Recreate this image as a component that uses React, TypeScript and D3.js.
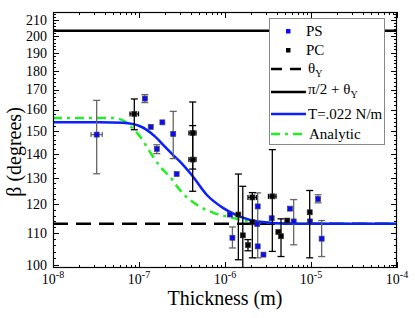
import React, { useEffect, useRef } from 'react'
import * as d3 from 'd3'

const width = 415
const height = 318
const plotLeft = 53
const plotRight = 397
const plotTop = 12
const plotBottom = 268

const xTickExps = [-8, -7, -6, -5, -4]
const yTickVals = [100, 110, 120, 130, 140, 150, 160, 170, 180, 190, 200, 210]

const thetaY = 113.2
const piHalfPlusThetaY = 203.2

// [thickness m, beta, betaLo, betaHi, thicknessLo, thicknessHi]
const psPoints = [
	[3.22e-8, 148.3, 131.7, 164.5, 2.77e-8, 3.74e-8],
	[1.17e-7, 165.4, 163.4, 167.4, null, null],
	[1.37e-7, 151.8, null, null, null, null],
	[1.87e-7, 153.9, null, null, null, null],
	[1.61e-7, 142.0, 140.0, 143.8, null, null],
	[2.50e-7, 148.6, 137.9, 159.1, null, null],
	[2.74e-7, 131.6, null, null, null, null],
	[1.14e-6, 116.4, null, null, null, null],
	[1.22e-6, 108.5, 105.2, 112.1, null, null],
	[2.40e-6, 119.3, 102.1, 124.3, null, null],
	[2.37e-6, 113.1, null, null, null, null],
	[2.40e-6, 105.7, null, null, null, null],
	[2.80e-6, 103.1, null, null, null, null],
	[3.49e-6, 115.1, null, null, null, null],
	[5.70e-6, 118.5, null, null, null, null],
	[6.29e-6, 114.0, 106.2, 121.8, null, null],
	[9.73e-6, 114.0, null, null, null, null],
	[1.21e-5, 122.0, 120.6, 123.6, null, null],
	[1.33e-5, 108.2, 102.5, 114.3, null, null],
]

const pcPoints = [
	[8.82e-8, 157.9, 150.5, 165.2, 7.86e-8, 9.87e-8],
	[4.21e-7, 149.0, 133.6, 163.7, 3.81e-7, 4.60e-7],
	[4.21e-7, 137.5, 124.9, 152.4, 3.81e-7, 4.60e-7],
	[1.43e-6, 116.4, 101.5, 131.6, null, null],
	[1.61e-6, 109.3, 91.8, 126.8, null, null],
	[1.85e-6, 106.1, 104.3, 107.9, null, null],
	[2.08e-6, 122.6, null, null, 1.85e-6, 2.32e-6],
	[2.08e-6, 113.7, 102.1, 124.4, null, null],
	[3.55e-6, 123.0, 104.1, 141.7, 3.20e-6, 3.92e-6],
	[4.17e-6, 110.4, null, null, null, null],
	[4.48e-6, 109.0, 102.5, 114.9, null, null],
	[5.30e-6, 114.3, null, null, null, null],
	[9.66e-6, 117.2, 102.1, 125.2, null, null],
]

// T=.022 N/m fit
const fitCurve = [
	[1e-8, 154.0], [3.52e-8, 154.0], [6.52e-8, 153.7], [1.03e-7, 152.1],
	[1.53e-7, 147.5], [2.0e-7, 143.0], [2.48e-7, 139.5], [3.0e-7, 136.6],
	[4.21e-7, 130.7], [6.12e-7, 123.6], [9.55e-7, 118.7], [1.49e-6, 115.7],
	[2.55e-6, 113.9], [5.7e-6, 113.2], [1e-4, 113.2],
]

const analyticCurve = [
	[1e-8, 156.0], [4.6e-8, 156.0], [6.01e-8, 155.4], [7.45e-8, 153.3],
	[8.51e-8, 151.0], [1.03e-7, 147.4], [1.41e-7, 139.5], [1.75e-7, 134.7],
	[2.29e-7, 130.5], [2.84e-7, 126.3], [3.43e-7, 123.3], [4.72e-7, 119.9],
	[7.24e-7, 117.1], [1.05e-6, 115.7], [1.71e-6, 114.3], [3.08e-6, 113.6],
	[7.45e-6, 113.2], [1e-4, 113.2],
]

const serif = 'Liberation Serif, Times New Roman, Times, DejaVu Serif, serif'
const psColor = '#0a0aff'
const fitColor = '#0a1eff'
const analyticColor = '#22ee22'

export default function App() {
	const svgRef = useRef(null)

	useEffect(() => {
		const svg = d3.select(svgRef.current)
		svg.selectAll('*').remove()

		const x = d3.scaleLog().domain([1e-8, 1e-4]).range([plotLeft, plotRight])
		const y = d3.scaleLog().domain([99, 215]).range([plotBottom, plotTop])

		svg.append('rect')
			.attr('width', width).attr('height', height).attr('fill', 'white')

		svg.append('defs').append('clipPath').attr('id', 'plotclip')
			.append('rect')
			.attr('x', plotLeft).attr('y', plotTop)
			.attr('width', plotRight - plotLeft).attr('height', plotBottom - plotTop)

		// ticks (inward, all four sides)
		const axes = svg.append('g').attr('stroke', 'black').attr('stroke-width', 1)
		const xMinor = []
		xTickExps.slice(0, -1).forEach(e => {
			for (let k = 2; k <= 9; k++) xMinor.push(k * Math.pow(10, e))
		})
		const xMajor = xTickExps.map(e => Math.pow(10, e))
		const tick = (x1, y1, x2, y2) => axes.append('line')
			.attr('x1', x1).attr('y1', y1).attr('x2', x2).attr('y2', y2)
		xMajor.forEach(v => {
			const px = Math.round(x(v)) + 0.5
			tick(px, plotBottom, px, plotBottom - 6)
			tick(px, plotTop, px, plotTop + 6)
		})
		xMinor.forEach(v => {
			const px = Math.round(x(v)) + 0.5
			tick(px, plotBottom, px, plotBottom - 3)
			tick(px, plotTop, px, plotTop + 3)
		})
		d3.range(100, 216, 2).forEach(v => {
			const major = v % 10 === 0
			const py = Math.round(y(v)) + 0.5
			const len = major ? 6 : 3
			tick(plotLeft, py, plotLeft + len, py)
			tick(plotRight, py, plotRight - len, py)
		})

		// tick labels
		const xl = svg.append('g').style('font-family', serif).style('font-size', '14px')
		xTickExps.forEach(e => {
			const t = xl.append('text')
				.attr('x', x(Math.pow(10, e))).attr('y', 284)
				.attr('text-anchor', 'middle')
			t.append('tspan').text('10')
			t.append('tspan').attr('dy', -6).style('font-size', '10px').text(String(e))
		})
		yTickVals.forEach(v => {
			xl.append('text')
				.attr('x', 47).attr('y', y(v)).attr('dy', '0.35em')
				.attr('text-anchor', 'end').text(v)
		})

		// axis titles
		svg.append('text')
			.attr('x', (plotLeft + plotRight) / 2).attr('y', 305)
			.attr('text-anchor', 'middle')
			.style('font-family', serif).style('font-size', '20px')
			.text('Thickness (m)')
		svg.append('text')
			.attr('transform', `translate(21, ${(plotTop + plotBottom) / 2 + 12}) rotate(-90)`)
			.attr('text-anchor', 'middle')
			.style('font-family', serif).style('font-size', '20px')
			.text('β (degrees)')

		const plot = svg.append('g').attr('clip-path', 'url(#plotclip)')

		// reference lines
		plot.append('line')
			.attr('x1', plotLeft).attr('x2', plotRight)
			.attr('y1', y(thetaY)).attr('y2', y(thetaY))
			.attr('stroke', 'black').attr('stroke-width', 2.5)
			.attr('stroke-dasharray', '15,8')
		plot.append('line')
			.attr('x1', plotLeft).attr('x2', plotRight)
			.attr('y1', y(piHalfPlusThetaY)).attr('y2', y(piHalfPlusThetaY))
			.attr('stroke', 'black').attr('stroke-width', 2.5)

		const line = d3.line()
			.x(d => x(d[0]))
			.y(d => y(d[1]))
			.curve(d3.curveMonotoneX)

		plot.append('path')
			.attr('d', line(analyticCurve))
			.attr('fill', 'none').attr('stroke', analyticColor)
			.attr('stroke-width', 2.5).attr('stroke-dasharray', '9,5,3,5')
		plot.append('path')
			.attr('d', line(fitCurve))
			.attr('fill', 'none').attr('stroke', fitColor)
			.attr('stroke-width', 2.5)

		// data points with error bars
		function drawSeries(points, barColor, fill, stroke) {
			const g = plot.append('g')
			points.forEach(p => {
				const [t, b, lo, hi, tlo, thi] = p
				const px = x(t)
				const py = y(b)
				if (lo != null) {
					g.append('line')
						.attr('x1', px).attr('x2', px).attr('y1', y(lo)).attr('y2', y(hi))
						.attr('stroke', barColor).attr('stroke-width', 1.3)
					;[lo, hi].forEach(v => {
						g.append('line')
							.attr('x1', px - 3.5).attr('x2', px + 3.5).attr('y1', y(v)).attr('y2', y(v))
							.attr('stroke', barColor).attr('stroke-width', 1.3)
					})
				}
				if (tlo != null) {
					g.append('line')
						.attr('x1', x(tlo)).attr('x2', x(thi)).attr('y1', py).attr('y2', py)
						.attr('stroke', barColor).attr('stroke-width', 1.3)
					;[tlo, thi].forEach(v => {
						g.append('line')
							.attr('x1', x(v)).attr('x2', x(v)).attr('y1', py - 2.5).attr('y2', py + 2.5)
							.attr('stroke', barColor).attr('stroke-width', 1.3)
					})
				}
				g.append('rect')
					.attr('x', px - 2.5).attr('y', py - 2.5)
					.attr('width', 5).attr('height', 5)
					.attr('fill', fill).attr('stroke', stroke).attr('stroke-width', 0.7)
			})
		}
		drawSeries(psPoints, '#666', psColor, '#445')
		drawSeries(pcPoints, 'black', 'black', '#333')

		// frame
		svg.append('rect')
			.attr('x', plotLeft + 0.5).attr('y', plotTop + 0.5)
			.attr('width', plotRight - plotLeft - 1).attr('height', plotBottom - plotTop - 1)
			.attr('fill', 'none').attr('stroke', 'black').attr('stroke-width', 1.2)

		// legend
		const lg = svg.append('g').style('font-family', serif).style('font-size', '15px')
		lg.append('rect')
			.attr('x', 269.5).attr('y', 18.5).attr('width', 115).attr('height', 126)
			.attr('fill', 'white').attr('stroke', '#888').attr('stroke-width', 1)
		const textX = 306
		const rows = [31, 50, 69, 92, 114, 134]
		lg.append('rect').attr('x', 286).attr('y', rows[0] - 2).attr('width', 4.5).attr('height', 4.5).attr('fill', psColor)
		lg.append('text').attr('x', textX).attr('y', rows[0] + 5).text('PS')
		lg.append('rect').attr('x', 286).attr('y', rows[1] - 2).attr('width', 4.5).attr('height', 4.5).attr('fill', 'black')
		lg.append('text').attr('x', textX).attr('y', rows[1] + 5).text('PC')

		lg.append('line').attr('x1', 271).attr('x2', 301).attr('y1', rows[2]).attr('y2', rows[2])
			.attr('stroke', 'black').attr('stroke-width', 2.5).attr('stroke-dasharray', '11,8')
		const t1 = lg.append('text').attr('x', textX + 2).attr('y', rows[2] + 4)
		t1.append('tspan').text('θ')
		t1.append('tspan').attr('dy', 4).style('font-size', '10px').text('Y')

		lg.append('line').attr('x1', 271).attr('x2', 306).attr('y1', rows[3]).attr('y2', rows[3])
			.attr('stroke', 'black').attr('stroke-width', 2.5)
		const t2 = lg.append('text').attr('x', textX + 2).attr('y', rows[3] + 2)
		t2.append('tspan').text('π/2 + θ')
		t2.append('tspan').attr('dy', 4).style('font-size', '10px').text('Y')

		lg.append('line').attr('x1', 271).attr('x2', 306).attr('y1', rows[4]).attr('y2', rows[4])
			.attr('stroke', fitColor).attr('stroke-width', 2.5)
		lg.append('text').attr('x', textX + 2).attr('y', rows[4] + 5).text('T=.022 N/m')

		lg.append('line').attr('x1', 271).attr('x2', 306).attr('y1', rows[5]).attr('y2', rows[5])
			.attr('stroke', analyticColor).attr('stroke-width', 2.5).attr('stroke-dasharray', '9,5,3,5')
		lg.append('text').attr('x', textX + 3).attr('y', rows[5] + 5).text('Analytic')
	}, [])

	return (
		<svg ref={svgRef} width={width} height={height}
			style={{ position: 'absolute', left: 0, top: 0, display: 'block' }} />
	)
}
